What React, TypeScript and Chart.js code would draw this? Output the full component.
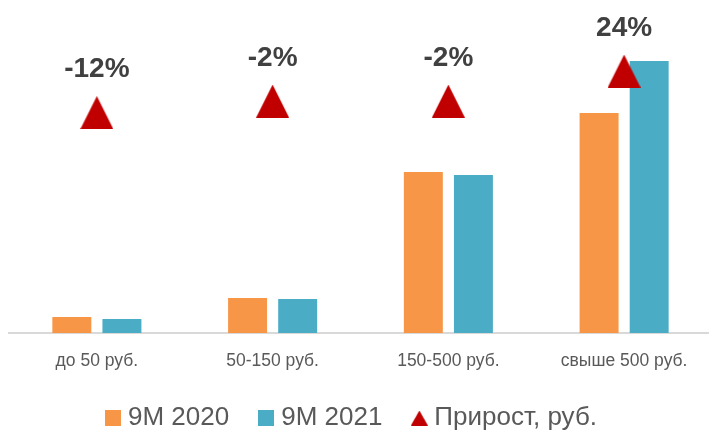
import React, { useEffect, useRef } from 'react';
import { Chart, registerables } from 'chart.js';

Chart.register(...registerables);

const categories = ['до 50 руб.', '50-150 руб.', '150-500 руб.', 'свыше 500 руб.'];
const series2020 = [16, 35, 161, 220];
const series2021 = [14, 34, 158, 272];
const growthPct = [-12, -2, -2, 24];
const growthLabels = ['-12%', '-2%', '-2%', '24%'];
const seriesNames = ['9M 2020', '9M 2021', 'Прирост, руб.'];

const ORANGE = '#F79646';
const BLUE = '#4BACC6';
const RED = '#C00000';
const FONT = "'Liberation Sans', Arial, sans-serif";

function makeTriangle(w: number, h: number, color: string) {
  const c = document.createElement('canvas');
  c.width = w;
  c.height = h;
  const ctx = c.getContext('2d')!;
  ctx.fillStyle = color;
  ctx.beginPath();
  ctx.moveTo(w / 2, 0);
  ctx.lineTo(w, h);
  ctx.lineTo(0, h);
  ctx.closePath();
  ctx.fill();
  return c;
}

function makeSquare(s: number, color: string) {
  const c = document.createElement('canvas');
  c.width = s;
  c.height = s;
  const ctx = c.getContext('2d')!;
  ctx.fillStyle = color;
  ctx.fillRect(0, 0, s, s);
  return c;
}

export default function App() {
  const ref = useRef<HTMLCanvasElement>(null);

  useEffect(() => {
    if (!ref.current) return;
    const tri = makeTriangle(33, 33, RED);
    const legTri = makeTriangle(17, 15, RED);
    const legO = makeSquare(16, ORANGE);
    const legB = makeSquare(16, BLUE);

    const labelPlugin = {
      id: 'growthLabels',
      afterDatasetsDraw(chart: any) {
        const meta = chart.getDatasetMeta(2);
        const ctx = chart.ctx;
        ctx.save();
        ctx.font = `bold 28px ${FONT}`;
        ctx.fillStyle = '#404040';
        ctx.textAlign = 'center';
        ctx.textBaseline = 'middle';
        meta.data.forEach((pt: any, i: number) => {
          ctx.fillText(growthLabels[i], pt.x, pt.y - 43);
        });
        ctx.restore();
      },
    };

    const chart = new Chart(ref.current, {
      type: 'bar',
      data: {
        labels: categories,
        datasets: [
          {
            type: 'bar',
            label: seriesNames[0],
            data: series2020,
            backgroundColor: ORANGE,
            categoryPercentage: 0.57,
            barPercentage: 0.778,
            yAxisID: 'y',
            order: 1,
          },
          {
            type: 'bar',
            label: seriesNames[1],
            data: series2021,
            backgroundColor: BLUE,
            categoryPercentage: 0.57,
            barPercentage: 0.778,
            yAxisID: 'y',
            order: 1,
          },
          {
            type: 'line',
            label: seriesNames[2],
            data: growthPct,
            showLine: false,
            pointStyle: tri as any,
            pointRadius: 17,
            backgroundColor: RED,
            borderColor: RED,
            yAxisID: 'y2',
            order: 0,
          } as any,
        ],
      },
      options: {
        animation: false,
        responsive: false,
        events: [],
        layout: { padding: { left: 6, right: 8, top: 33, bottom: 0 } },
        scales: {
          x: {
            grid: { display: false, drawTicks: false },
            border: { display: true, color: '#D9D9D9', width: 2 },
            ticks: {
              color: '#595959',
              font: { family: FONT, size: 17.5, lineHeight: 1 },
              padding: 19.25,
              maxRotation: 0,
            },
            afterFit: (s: any) => {
              s.height = 37;
            },
          },
          y: {
            min: 0,
            max: 300,
            display: true,
            grid: { display: false },
            border: { display: false },
            ticks: { display: false },
            afterFit: (s: any) => {
              s.width = 23;
            },
          },
          y2: {
            min: -203,
            max: 57,
            display: false,
          },
        },
        plugins: {
          tooltip: { enabled: false },
          legend: {
            position: 'bottom',
            labels: {
              usePointStyle: true,
              boxWidth: 4,
              padding: 35,
              color: '#595959',
              font: { family: FONT, size: 26 },
              generateLabels: () =>
                [legO, legB, legTri].map((img, i) => ({
                  text: seriesNames[i],
                  pointStyle: img as any,
                  fillStyle: 'transparent',
                  strokeStyle: 'transparent',
                  lineWidth: 0,
                  hidden: false,
                  datasetIndex: i,
                  fontColor: '#595959',
                })),
            },
          },
        },
      },
      plugins: [labelPlugin],
    } as any);

    return () => chart.destroy();
  }, []);

  return (
    <div
      style={{
        position: 'fixed',
        left: 0,
        top: 0,
        width: 709,
        height: 432,
        overflow: 'hidden',
        background: '#fff',
      }}
    >
      <div style={{ position: 'absolute', left: -20, top: 0, width: 750, height: 441 }}>
        <canvas ref={ref} width={750} height={441} style={{ display: 'block' }} />
      </div>
    </div>
  );
}
